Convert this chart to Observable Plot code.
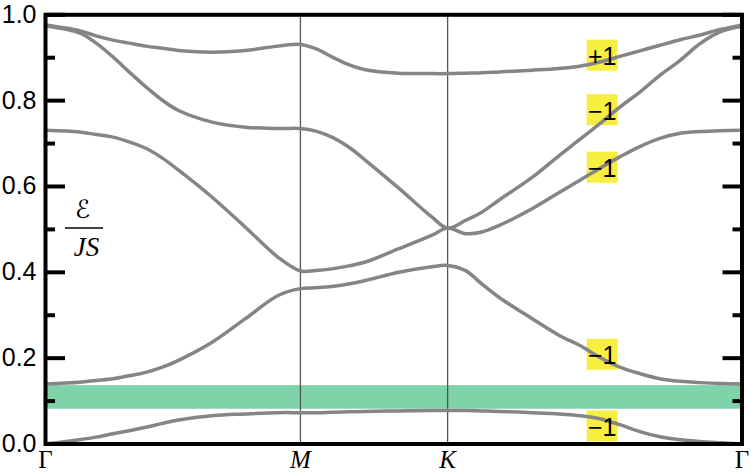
<!DOCTYPE html>
<html>
<head>
<meta charset="utf-8">
<script src="https://cdn.jsdelivr.net/npm/d3@7"></script>
<script src="https://cdn.jsdelivr.net/npm/@observablehq/plot@0.6"></script>
<style>
  html, body { margin: 0; padding: 0; background: #fff; }
  #chart svg { display: block; }
</style>
</head>
<body>
<div id="chart"></div>
<script>
// Path coordinate along Γ–M–K–Γ (segment lengths 0.866 : 0.5 : 1)
const k = [0, 0.115, 0.172, 0.229, 0.284, 0.341, 0.397, 0.452, 0.566, 0.679, 0.790, 0.866,
           0.918, 0.973, 1.030, 1.087, 1.200, 1.312, 1.366,
           1.427, 1.482, 1.540, 1.653, 1.745, 1.814, 1.882, 1.951, 2.019, 2.087, 2.156, 2.224, 2.292, 2.366];

// Magnon band energies E/JS at each k
const band1 = [0, 0.010, 0.016, 0.024, 0.031, 0.039, 0.048, 0.056, 0.066, 0.070, 0.073, 0.073,
               0.073, 0.074, 0.075, 0.076, 0.077, 0.078, 0.078,
               0.078, 0.077, 0.076, 0.073, 0.070, 0.066, 0.059, 0.045, 0.029, 0.017, 0.010, 0.006, 0.003, 0];
const band2 = [0.140, 0.144, 0.148, 0.152, 0.159, 0.167, 0.179, 0.195, 0.237, 0.292, 0.346, 0.362,
               0.364, 0.367, 0.373, 0.381, 0.400, 0.413, 0.416,
               0.404, 0.373, 0.342, 0.292, 0.253, 0.230, 0.202, 0.179, 0.164, 0.152, 0.146, 0.143, 0.141, 0.140];
const band3 = [0.731, 0.727, 0.721, 0.715, 0.704, 0.689, 0.666, 0.638, 0.575, 0.505, 0.435, 0.403,
               0.404, 0.408, 0.415, 0.424, 0.455, 0.486, 0.503,
               0.490, 0.494, 0.509, 0.548, 0.586, 0.614, 0.642, 0.669, 0.693, 0.712, 0.724, 0.728, 0.730, 0.731];
const band4 = [0.974, 0.958, 0.934, 0.902, 0.867, 0.832, 0.801, 0.777, 0.750, 0.738, 0.735, 0.735,
               0.729, 0.715, 0.692, 0.661, 0.596, 0.529, 0.503,
               0.521, 0.540, 0.568, 0.621, 0.672, 0.709, 0.746, 0.785, 0.820, 0.859, 0.894, 0.933, 0.960, 0.973];
const band5 = [0.976, 0.963, 0.951, 0.941, 0.934, 0.927, 0.922, 0.917, 0.913, 0.917, 0.927, 0.931,
               0.921, 0.902, 0.884, 0.872, 0.864, 0.863, 0.863,
               0.864, 0.865, 0.867, 0.871, 0.875, 0.880, 0.890, 0.903, 0.916, 0.929, 0.942, 0.953, 0.966, 0.976];

// High-symmetry points
const pathTicks = [0, 0.866, 1.366, 2.366];
const pathLabels = ["Γ", "M", "K", "Γ"];

// Y ticks
const majorTicks = [0, 0.2, 0.4, 0.6, 0.8, 1.0];
const minorTicks = [0.1, 0.3, 0.5, 0.7, 0.9];

// Band gap (shaded)
const gapLow = 0.081, gapHigh = 0.136;

// Chern-number labels
const chernK = [1.891, 1.891, 1.891, 1.891, 1.891];
const chernE = [0.906, 0.779, 0.645, 0.209, 0.042];
const chernText = ["+1", "\u22121", "\u22121", "\u22121", "\u22121"];

// ---- build tables ----
const bands = [band1, band2, band3, band4, band5];
const lineData = bands.flatMap((b, i) => b.map((e, j) => ({k: k[j], e, band: i + 1})));
const gapData = [{k0: k[0], k1: k[k.length - 1], lo: gapLow, hi: gapHigh}];
const chern = chernK.map((kk, i) => ({k: kk, e: chernE[i], t: chernText[i]}));
const tickData = pathTicks.map((kk, i) => ({k: kk, label: pathLabels[i]}));

const sans = "'Liberation Sans', Arial, Helvetica, sans-serif";
const serif = "'Liberation Serif', 'Times New Roman', serif";

const chart = Plot.plot({
  width: 751,
  height: 472,
  marginLeft: 45,
  marginRight: 9.5,
  marginTop: 14.3,
  marginBottom: 28.5,
  style: {fontFamily: sans, fontSize: "25px", background: "white", overflow: "visible"},
  x: {domain: [pathTicks[0], pathTicks[3]], axis: null},
  y: {domain: [0, 1]},
  marks: [
    Plot.rect(gapData, {x1: "k0", x2: "k1", y1: "lo", y2: "hi", fill: "#7ed3a9"}),
    Plot.ruleX(pathTicks.slice(1, 3), {stroke: "#555", strokeWidth: 1.3}),
    Plot.dot(chern, {x: "k", y: "e", symbol: "square", r: 17.5, fill: "#f7ef3f", stroke: null}),
    Plot.line(lineData, {x: "k", y: "e", z: "band", stroke: "#858585", strokeWidth: 3.5, curve: "catmull-rom"}),
    Plot.text(chern, {x: "k", y: "e", text: "t", fontSize: 25, fill: "black", dy: 2, fontFamily: sans}),
    Plot.frame({stroke: "black", strokeWidth: 4}),
    Plot.axisY(majorTicks, {anchor: "left", tickSize: -20, strokeWidth: 4, tickFormat: () => "", label: null}),
    Plot.axisY(minorTicks, {anchor: "left", tickSize: -10, strokeWidth: 4, tickFormat: () => "", label: null}),
    Plot.axisY(majorTicks, {anchor: "right", tickSize: -20, strokeWidth: 4, tickFormat: () => "", label: null}),
    Plot.axisY(minorTicks, {anchor: "right", tickSize: -10, strokeWidth: 4, tickFormat: () => "", label: null}),
    Plot.axisY(majorTicks, {anchor: "left", tickSize: 0, tickPadding: 9, tickFormat: d3.format(".1f"), fontSize: 25, fill: "black", label: null}),
    Plot.text(tickData.filter(d => d.label === "Γ"), {x: "k", text: "label", frameAnchor: "bottom", lineAnchor: "top", dy: 6, fontFamily: serif, fontSize: 25, fill: "black"}),
    Plot.text(tickData.filter(d => d.label !== "Γ"), {x: "k", text: "label", frameAnchor: "bottom", lineAnchor: "top", dy: 6, fontFamily: serif, fontStyle: "italic", fontSize: 25, fill: "black"}),
    Plot.text(["\u2130"], {frameAnchor: "top-left", textAnchor: "middle", lineAnchor: "middle", dx: 37, dy: 195, fontFamily: "'DejaVu Serif', 'DejaVu Sans', serif", fontSize: 25, fill: "black"}),
    Plot.text(["JS"], {frameAnchor: "top-left", textAnchor: "middle", lineAnchor: "middle", dx: 41, dy: 233, fontFamily: serif, fontStyle: "italic", fontSize: 27, fill: "black", letterSpacing: 4})
  ]
});

document.getElementById("chart").appendChild(chart);

// fraction bar for the y label
d3.select(chart).append("line")
  .attr("x1", 65).attr("x2", 103).attr("y1", 228).attr("y2", 228)
  .attr("stroke", "black").attr("stroke-width", 1.5);
</script>
</body>
</html>
